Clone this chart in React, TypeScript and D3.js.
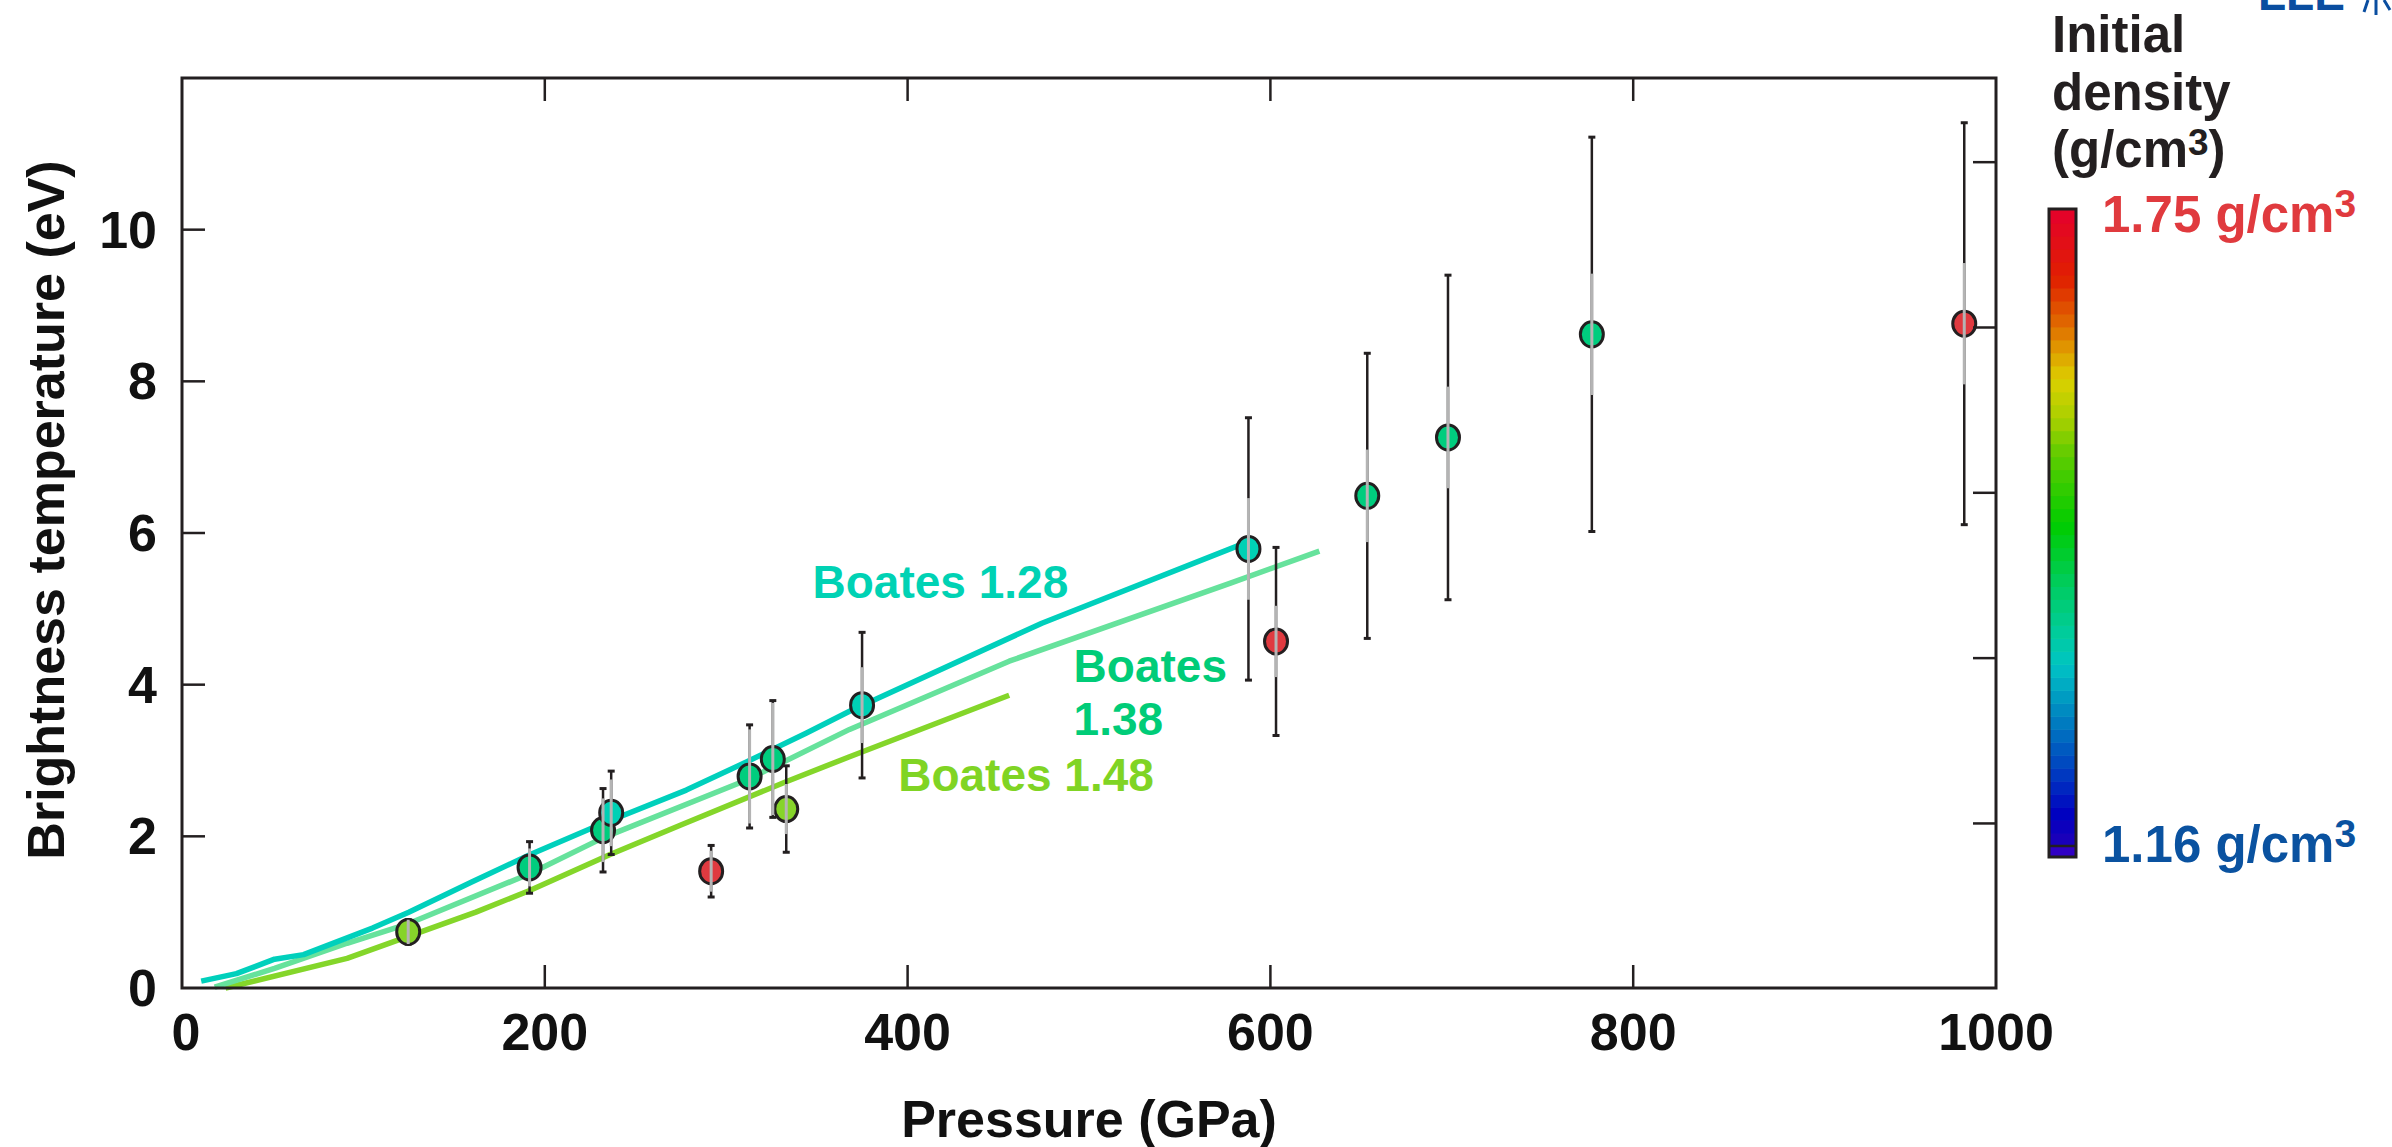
import { useEffect } from 'react';
import * as d3 from 'd3';

// measured points: pressure (GPa), brightness temperature (eV), error bars, initial density
const pressure = [124.7, 191.6, 232.1, 236.6, 291.7, 312.9, 325.7, 333.1, 374.9, 587.9, 603.1, 653.4, 697.9, 777.2, 982.5];
const temperature = [0.74, 1.59, 2.08, 2.31, 1.54, 2.79, 3.02, 2.36, 3.73, 5.79, 4.57, 6.49, 7.26, 8.62, 8.76];
const errTotal = [0.16, 0.34, 0.55, 0.55, 0.34, 0.68, 0.77, 0.57, 0.96, 1.73, 1.24, 1.88, 2.14, 2.6, 2.65];
const errStat = [0.16, 0.25, 0.42, 0.44, 0.27, 0.62, 0.74, 0.33, 0.5, 0.67, 0.47, 0.61, 0.67, 0.8, 0.8];
const density = [1.48, 1.38, 1.38, 1.28, 1.75, 1.38, 1.38, 1.48, 1.28, 1.28, 1.75, 1.38, 1.38, 1.38, 1.75];

// Boates model curves [pressure, temperature]
const boates128: [number, number][] = [
  [10.6, 0.09], [30, 0.19], [51, 0.38], [67, 0.44], [105, 0.79], [125, 1.0], [160, 1.4],
  [192, 1.76], [228, 2.13], [278, 2.61], [312, 2.99], [344, 3.36], [368, 3.65], [474, 4.81], [583, 5.84],
];
const boates138: [number, number][] = [
  [18, 0.01], [51, 0.26], [91, 0.59], [125, 0.85], [192, 1.51], [232, 1.98], [312, 2.75],
  [368, 3.41], [456, 4.31], [578, 5.34], [627, 5.76],
];
const boates148: [number, number][] = [
  [24, 0], [91, 0.39], [162, 1.0], [192, 1.29], [236, 1.76], [275, 2.15], [333, 2.72], [368, 3.05], [456, 3.86],
];

const xTicks = [0, 200, 400, 600, 800, 1000];
const yTicks = [0, 2, 4, 6, 8, 10];
const rightTicks = [2.17, 4.35, 6.53, 8.71, 10.89];

const densityCats = [1.28, 1.38, 1.48, 1.75];
const densityColors = ['#00d1b5', '#00cd7e', '#86d42a', '#e03a40'];

const curveLabels = [
  { lines: ['Boates 1.28'], x: 347.6, y: 5.14, color: '#00d2b4' },
  { lines: ['Boates', '1.38'], x: 491.5, y: 4.035, color: '#00cc78' },
  { lines: ['Boates 1.48'], x: 394.8, y: 2.6, color: '#80d424' },
];

const W = 2392;
const H = 1147;
const FONT = "'Liberation Sans', Arial, Helvetica, sans-serif";
const INK = '#231f20';

export default function App() {
  useEffect(() => {
    document.body.style.margin = '0';
    document.body.style.overflow = 'hidden';
  }, []);

  const x = d3.scaleLinear().domain([0, 1000]).range([182, 1996]);
  const y = d3.scaleLinear().domain([0, 12]).range([988, 78]);
  const color = d3.scaleOrdinal<number, string>().domain(densityCats).range(densityColors);

  const line = d3.line<[number, number]>().x(d => x(d[0])).y(d => y(d[1]));

  // colour bar
  const cbY = d3.scaleLinear().domain([1.16, 1.75]).range([846, 210]);
  const cbColor = d3.scaleLinear<string>()
    .domain([0, 0.05, 0.13, 0.2, 0.285, 0.34, 0.41, 0.505, 0.616, 0.671, 0.734, 0.789, 0.83, 0.893, 1])
    .range(['#2000b8', '#0000c0', '#0048c0', '#0080c0', '#00c4c4', '#00cc98', '#00cc60', '#00cc00',
      '#60cc00', '#a8d000', '#dcd000', '#e09000', '#e06000', '#e02000', '#e4002c'])
    .interpolate(d3.interpolateRgb);
  const nBands = 49;
  const bands = d3.range(nBands).map(i => {
    const d0 = 1.16 + (i * 0.59) / nBands;
    const d1 = 1.16 + ((i + 1) * 0.59) / nBands;
    return { y0: cbY(d1), y1: cbY(d0), c: cbColor((i + 0.5) / nBands) };
  });

  const points = pressure.map((p, i) => ({
    p, t: temperature[i], eo: errTotal[i], ei: errStat[i], d: density[i],
  }));

  return (
    <svg width={W} height={H} style={{ position: 'absolute', left: 0, top: 0, display: 'block', background: '#fff' }}
      fontFamily={FONT} fontWeight="bold">
      {/* model curves */}
      <g fill="none" strokeWidth={5.5} strokeLinejoin="round">
        <path d={line(boates148) || ''} stroke="#84d62a" />
        <path d={line(boates138) || ''} stroke="#66e29c" />
        <path d={line(boates128) || ''} stroke="#00d0bc" />
      </g>

      {/* curve labels */}
      {curveLabels.map((l, i) => (
        <text key={i} x={x(l.x)} y={y(l.y)} fill={l.color} fontSize={46}>
          {l.lines.map((s, j) => (
            <tspan key={j} x={x(l.x)} dy={j === 0 ? 0 : 53}>{s}</tspan>
          ))}
        </text>
      ))}

      {/* total error bars */}
      <g stroke={INK} strokeWidth={2.5}>
        {points.map((d, i) => (
          <g key={i}>
            <line x1={x(d.p)} x2={x(d.p)} y1={y(d.t + d.eo)} y2={y(d.t - d.eo)} />
            <line x1={x(d.p) - 3.5} x2={x(d.p) + 3.5} y1={y(d.t + d.eo)} y2={y(d.t + d.eo)} strokeWidth={3} />
            <line x1={x(d.p) - 3.5} x2={x(d.p) + 3.5} y1={y(d.t - d.eo)} y2={y(d.t - d.eo)} strokeWidth={3} />
          </g>
        ))}
      </g>

      {/* markers */}
      <g stroke={INK} strokeWidth={3}>
        {points.map((d, i) => (
          <ellipse key={i} cx={x(d.p)} cy={y(d.t)} rx={11.5} ry={12.5} fill={color(d.d)} />
        ))}
      </g>

      {/* inner error bars */}
      <g stroke="#b4b4b4" strokeWidth={3}>
        {points.map((d, i) => (
          <line key={i} x1={x(d.p)} x2={x(d.p)} y1={y(d.t + d.ei)} y2={y(d.t - d.ei)} />
        ))}
      </g>

      {/* frame and ticks */}
      <rect x={x(0)} y={y(12)} width={x(1000) - x(0)} height={y(0) - y(12)} fill="none" stroke={INK} strokeWidth={3} />
      <g stroke={INK} strokeWidth={2.5}>
        {xTicks.slice(1, -1).map(v => (
          <g key={v}>
            <line x1={x(v)} x2={x(v)} y1={y(0)} y2={y(0) - 23} />
            <line x1={x(v)} x2={x(v)} y1={y(12)} y2={y(12) + 23} />
          </g>
        ))}
        {yTicks.slice(1).map(v => (
          <line key={v} x1={x(0)} x2={x(0) + 23} y1={y(v)} y2={y(v)} />
        ))}
        {rightTicks.map(v => (
          <line key={v} x1={x(1000)} x2={x(1000) - 23} y1={y(v)} y2={y(v)} />
        ))}
      </g>

      {/* tick labels */}
      <g fontSize={52} fill="#111">
        {xTicks.map(v => (
          <text key={v} x={x(v) + (v === 0 ? 4 : 0)} y={1050} textAnchor="middle">{v}</text>
        ))}
        {yTicks.map(v => (
          <text key={v} x={157} y={y(v) + 18} textAnchor="end">{v}</text>
        ))}
      </g>

      {/* axis titles */}
      <text x={(x(0) + x(1000)) / 2} y={1137} textAnchor="middle" fontSize={52} fill="#111">Pressure (GPa)</text>
      <text transform="translate(64,510) rotate(-90)" textAnchor="middle" fontSize={52} fill="#111">
        Brightness temperature (eV)
      </text>

      {/* colour bar */}
      <g>
        {bands.map((b, i) => (
          <rect key={i} x={2049} y={b.y0} width={27} height={b.y1 - b.y0 + 0.6} fill={b.c} />
        ))}
        <rect x={2049} y={846} width={27} height={11} fill="#3000c4" />
        <line x1={2049} x2={2076} y1={846} y2={846} stroke={INK} strokeWidth={2.5} />
        <rect x={2049} y={209} width={27} height={648} fill="none" stroke={INK} strokeWidth={3} />
      </g>

      <g fontSize={51} fill={INK}>
        <text x={2052} y={52}>Initial</text>
        <text x={2052} y={110}>density</text>
        <text x={2052} y={167}>
          (g/cm<tspan dy={-12} fontSize={37}>3</tspan><tspan dy={12}>)</tspan>
        </text>
      </g>
      <text x={2102} y={232} fontSize={51} fill="#e03a3e">
        1.75 g/cm<tspan dy={-15} fontSize={39}>3</tspan>
      </text>
      <text x={2102} y={862} fontSize={51} fill="#0a52a0">
        1.16 g/cm<tspan dy={-15} fontSize={39}>3</tspan>
      </text>

      {/* logo fragment, cropped at the top edge as in the source image */}
      <text x={2258} y={10} fontSize={46} fontWeight={900} fill="#0a4ea0">LLE</text>
      <g stroke="#0a4ea0" strokeWidth={3}>
        <line x1={2368} y1={0} x2={2364} y2={12} />
        <line x1={2376} y1={0} x2={2376} y2={15} />
        <line x1={2384} y1={0} x2={2390} y2={10} />
      </g>
    </svg>
  );
}
